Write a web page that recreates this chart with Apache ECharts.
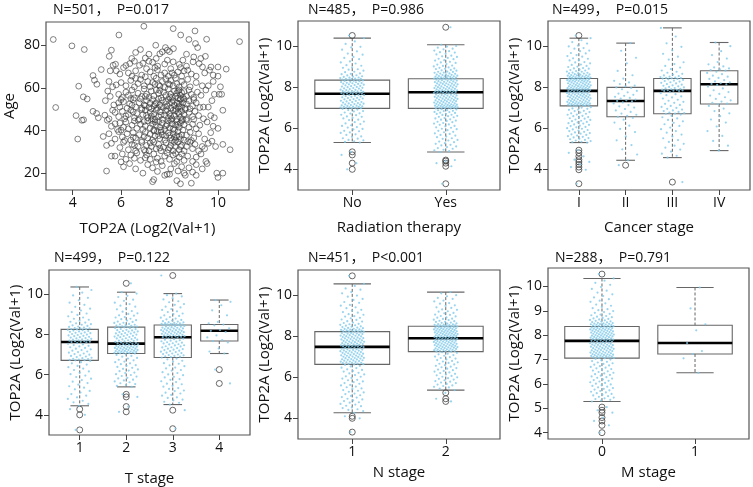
<!DOCTYPE html>
<html><head><meta charset="utf-8">
<script src="https://cdn.jsdelivr.net/npm/echarts@6/dist/echarts.min.js"></script>
<style>html,body{margin:0;padding:0;background:#fff}#c{width:753px;height:487px}</style>
</head><body><div id="c"></div>
<script>
// ---------------- DATA ----------------
// Panel 1: [TOP2A (Log2(Val+1)), Age]
const agePoints = [
[3.2,82.7],[6.94,88.9],[8.15,87.8],[9.05,86.7],[5.91,84.8],[8.46,84.8],[9.53,82.8],[8.8,82.7],[10.89,81.7],[9.07,80.8],[7.43,80],[3.97,79.7],
[4.48,78],[9.16,78.9],[7.83,78.9],[8.16,78.4],[7.91,77.7],[5.6,77.7],[7.7,76.9],[6.6,76.6],[7.15,75.8],[8.7,75.8],[9.48,74.8],[5.51,74.8],[8.0,77],[6.8,78],[7.6,76],
[7.45,73.8],[6.44,73.8],[9.29,73.8],[7.91,73],[7.15,72.5],[8.97,72.2],[9.22,71.4],[6.36,71.4],[5.67,70.6],[5.77,71.1],[6.76,70.6],[7.51,70.2],[8.15,72.2],[8.7,70.2],[9.71,69.8],[10.0,69.8],[6.55,72.5],[7.0,74],[8.4,71],[6.9,71.5],[7.3,72],[8.55,73],[6.2,70.5],[7.8,71.2],[9.0,74.5],
[10.34,68.8],[8.75,68.3],[9.36,69.8],[9.65,68.3],[5.18,68.6],[4.84,65.8],[5.8,68],[6.3,67],[6.6,68],[6.85,66],[7.05,69],[7.2,67.5],[7.35,65.5],[7.5,68.5],[7.65,66],[7.8,67],[7.95,65.5],[8.05,69],[8.2,66],[8.35,67.5],[8.5,65.5],[8.6,68],[8.9,66.5],[9.1,65.5],[9.8,66],[10.0,65.5],[6.1,69.5],[5.95,66.5],[7.4,69.5],[8.1,67],[8.45,69.5],[7.0,65.2],[6.45,65.5],[9.45,67],[5.55,68],
[4.25,60.8],[4.9,63.6],[5.0,61.7],[5.8,61.4],[5.5,63],[5.65,60.5],[6.0,62.5],[6.2,61],[6.4,63.5],[6.55,60.5],[6.7,62],[6.8,64],[6.95,61],[7.1,63],[7.2,60.5],[7.3,62.5],[7.45,64.5],[7.55,61.5],[7.7,63],[7.8,60.2],[7.85,64],[7.95,62],[8.05,63.5],[8.15,61],[8.25,64.5],[8.3,62],[8.4,60.5],[8.5,63],[8.6,61.5],[8.75,64],[8.85,60.5],[9.1,62.5],[9.35,61],[9.6,61],[9.8,63],[10.1,60.5],[7.6,60.8],[8.0,61.5],[7.4,61.7],[6.6,64.5],
[4.44,55.8],[4.6,54.8],[5.45,58.5],[5.55,56],[5.9,57],[6.05,55.5],[6.2,58],[6.3,56.5],[6.45,59],[6.55,55.3],[6.7,57.5],[6.85,56],[6.95,59.5],[7.05,57],[7.15,55.5],[7.25,58.5],[7.35,56.2],[7.45,59],[7.55,57.5],[7.65,55.3],[7.75,58],[7.85,56.5],[7.95,59.5],[8.05,57],[8.1,55.5],[8.2,58.5],[8.25,56],[8.3,57.5],[8.35,55.2],[8.4,59],[8.45,56.5],[8.5,57.8],[8.55,55.5],[8.6,58.3],[8.7,56],[8.8,59],[8.9,57],[9.0,55.5],[9.15,58],[9.3,56.5],[9.5,59],[9.85,57],[10.05,57],[10.15,57],[6.4,55],[7.0,56],[7.6,58.8],[8.0,55.8],[8.35,58.6],[8.45,54.8],
[5.35,54],[5.7,52],[5.95,51],[6.1,53.5],[6.25,50.5],[6.35,52.5],[6.5,54.5],[6.6,51],[6.75,53],[6.85,50.5],[6.95,52],[7.05,54],[7.15,50.8],[7.2,52.8],[7.3,54.5],[7.35,51.5],[7.45,53],[7.5,50.5],[7.6,52],[7.7,54.2],[7.75,50.8],[7.85,53.5],[7.9,51.5],[8.0,52.8],[8.05,50.5],[8.15,54],[8.2,51.8],[8.3,53],[8.35,50.8],[8.4,52.5],[8.45,54.5],[8.5,51],[8.55,53],[8.65,50.5],[8.7,52.5],[8.8,54],[8.95,51.5],[9.1,53],[9.25,50.8],[9.4,51],[9.6,51],[9.75,54],[10.2,49.5],[3.3,50.8],[6.0,54.5],[6.8,54.8],[7.25,50.2],[7.65,51.2],[8.1,53.2],[8.25,50.2],[8.6,54.7],[7.0,51.6],[6.45,51.8],[5.9,53],[7.55,54.8],[8.85,50.2],[9.0,54.5],[7.95,54.6],[8.4,51.5],[7.4,52.2],
[4.14,47],[4.84,49],[4.99,48],[5.06,46],[5.33,47.2],[5.5,45.5],[5.75,48.5],[5.9,46.5],[6.05,49],[6.15,45.5],[6.3,47.5],[6.4,49.5],[6.55,46],[6.65,48],[6.75,45.3],[6.9,47.5],[7.0,49.5],[7.1,46],[7.2,48.5],[7.3,45.5],[7.35,47.8],[7.45,49.5],[7.55,46.5],[7.6,48.8],[7.7,45.2],[7.8,47.2],[7.85,49.2],[7.95,46],[8.0,48],[8.1,45.5],[8.15,49.5],[8.2,47],[8.3,45.3],[8.35,48.5],[8.45,46.2],[8.5,49],[8.6,47.5],[8.7,45.5],[8.8,48.5],[8.95,46.5],[9.05,49],[9.2,47],[9.4,45.5],[9.7,47],[9.85,46],[6.2,46.8],[6.85,49.8],[7.25,46.8],[7.65,47.2],[8.05,46.8],[8.4,47.8],[8.55,45.2],[7.4,45.2],[6.5,48.8],[7.9,49.8],[8.25,49.2],[7.05,47.2],[5.65,49.5],[9.0,45.2],[8.65,49.8],
[4.38,44.8],[4.45,45],[5.43,44.8],[5.6,42],[5.85,40.5],[5.95,43.5],[6.1,41.5],[6.2,44],[6.3,40.8],[6.45,42.5],[6.55,44.5],[6.65,41],[6.8,43],[6.9,40.5],[7.0,42.2],[7.1,44.5],[7.2,41.2],[7.3,43],[7.35,40.3],[7.45,42.5],[7.55,44.2],[7.6,41.5],[7.7,43.5],[7.8,40.5],[7.85,42.2],[7.95,44.5],[8.0,41.2],[8.1,43.2],[8.15,40.8],[8.25,42.5],[8.3,44.2],[8.4,41.5],[8.45,43.5],[8.55,40.2],[8.6,42.8],[8.7,44.8],[8.8,41.5],[8.95,43],[9.1,40.8],[9.25,42.5],[9.55,44],[9.8,42],[10.0,41],[6.0,40.2],[6.7,44.8],[7.25,44.8],[7.65,40.2],[8.05,44.8],[8.35,42.8],[8.5,44.6],[7.9,42.8],[7.4,44],[6.95,44.2],[8.2,40.2],[5.75,43.2],
[4.21,36],[5.26,37.2],[5.5,38.5],[5.75,36],[5.9,39.5],[6.05,37],[6.25,38.5],[6.4,35.5],[6.5,39],[6.6,36.5],[6.75,38],[6.85,35.3],[7.0,39.2],[7.1,36.5],[7.2,38.3],[7.3,35.5],[7.4,37.5],[7.5,39.5],[7.6,36.2],[7.7,38],[7.8,35.5],[7.85,37.5],[7.95,39],[8.05,36.5],[8.15,38.5],[8.25,35.5],[8.3,37.5],[8.35,39.5],[8.45,36],[8.5,38],[8.6,35.5],[8.7,37.8],[8.85,39.2],[9.0,36.5],[9.2,38.5],[9.45,36],[9.7,39],[9.75,35],[10.2,33.5],[6.15,35.3],[6.95,37.2],[7.65,39.3],[8.1,35.3],[8.4,37.2],[7.35,39.8],[8.0,37.8],[7.55,37.6],[8.2,36.8],[6.5,36.8],[8.9,35.3],
[5.4,33],[5.6,34],[5.95,32],[6.1,34.5],[6.3,31],[6.45,33.5],[6.6,30.5],[6.7,32.5],[6.85,34.5],[6.95,31],[7.05,33],[7.15,30.5],[7.25,32.5],[7.35,34.5],[7.45,31.5],[7.55,33.5],[7.65,30.5],[7.75,32.2],[7.85,34.2],[7.95,31],[8.05,33],[8.15,30.5],[8.25,32.5],[8.35,34.5],[8.4,31],[8.5,33],[8.6,30.5],[8.7,32.5],[8.85,34.5],[8.95,31.5],[9.05,33.5],[9.2,30.5],[9.35,32.5],[9.6,34],[9.9,32.5],[10.5,31],[7.0,30.2],[7.6,31.8],[8.2,34.5],[8.45,32.5],[7.2,34.2],[6.55,33],[8.0,32],[8.75,34.8],[9.45,31.5],
[5.6,28],[5.75,28],[6.05,29],[6.2,26.5],[6.4,28.5],[6.55,27],[6.65,29.5],[6.8,26],[7.05,28.5],[7.2,26.5],[7.35,29],[7.5,27],[7.65,25.5],[7.8,28],[7.9,29.5],[8.0,26.5],[8.15,28.5],[8.3,25.5],[8.4,27.5],[8.5,29],[8.6,26],[8.75,28],[8.95,25.5],[9.1,27.5],[9.3,29],[9.5,25.5],[6.0,25.3],[7.45,25.2],[8.25,29.2],[7.0,27.2],
[5.4,21],[6.1,23],[6.35,24.5],[6.6,22],[6.9,20],[7.1,24],[7.3,22.5],[7.5,20.8],[7.7,23.5],[7.9,19.5],[8.05,22],[8.2,24.5],[8.35,21],[8.5,23],[8.6,20],[8.8,22.5],[8.95,20.5],[9.1,24],[9.35,22],[9.55,24.5],[9.95,20],[10.2,20],
[7.3,16],[7.8,19],[8.0,19.5],[8.3,16.5],[8.45,15],[8.9,15.3],[8.65,19],[9.1,19],[10.0,18],[7.35,17]
];

// Box statistics per group: [lower whisker, Q1, median, Q3, upper whisker]
const radiationCats = ['No', 'Yes'];
const radiationBox = [[5.30, 6.96, 7.67, 8.33, 10.37], [4.84, 6.96, 7.74, 8.40, 10.05]];
const radiationOut = [[10.5, 4.85, 4.7, 4.3, 4.0], [10.9, 4.45, 4.4, 4.3, 4.15, 3.3]];
const radiationNo = [10.5,10.37,10.21,10.09,9.95,9.92,9.81,9.73,9.62,9.57,9.46,9.41,9.35,9.24,9.19,9.14,9.06,9.03,8.95,8.93,8.86,8.84,8.79,8.74,8.72,8.66,8.64,8.62,8.57,8.56,8.52,8.5,8.49,8.46,8.45,8.43,8.41,8.4,8.39,8.38,8.36,8.35,8.34,
8.32,8.3,8.29,8.28,8.25,8.24,8.23,8.2,8.19,8.18,8.16,8.15,8.13,8.11,8.09,8.08,8.05,8.04,8.02,8.0,7.99,7.96,7.95,7.93,7.92,7.9,7.87,7.86,7.85,7.83,7.81,7.8,7.79,7.77,7.76,7.75,7.74,7.72,7.71,7.7,7.69,7.68,7.67,
7.66,7.64,7.62,7.61,7.6,7.57,7.56,7.53,7.52,7.5,7.47,7.46,7.44,7.41,7.4,7.38,7.36,7.33,7.32,7.3,7.27,7.26,7.24,7.22,7.2,7.19,7.17,7.15,7.14,7.12,7.11,7.09,7.08,7.06,7.05,7.04,7.03,7.01,7.0,6.99,6.98,6.97,6.96,
6.94,6.9,6.88,6.83,6.81,6.76,6.72,6.71,6.65,6.63,6.57,6.55,6.5,6.47,6.41,6.39,6.32,6.29,6.23,6.2,6.14,6.11,6.05,6.03,5.96,5.94,5.87,5.85,5.79,5.77,5.7,5.67,5.6,5.58,5.51,5.49,5.43,5.41,5.36,5.33,5.3,
4.85,4.7,4.3,4.0];
const radiationYes = [10.9,10.05,9.99,9.96,9.91,9.86,9.83,9.77,9.74,9.69,9.67,9.61,9.58,9.52,9.49,9.46,9.41,9.37,9.35,9.3,9.28,9.22,9.19,9.17,9.11,9.09,9.04,9.02,9.0,8.95,8.93,8.9,8.88,8.87,8.83,8.81,8.79,8.75,8.74,8.73,8.7,8.69,8.66,8.65,8.64,8.61,8.6,8.59,8.58,8.55,8.54,8.53,8.52,8.51,8.5,8.49,8.47,8.46,8.45,8.44,8.43,8.42,8.41,8.4,
8.39,8.38,8.37,8.36,8.34,8.33,8.31,8.3,8.28,8.27,8.25,8.24,8.23,8.21,8.2,8.18,8.17,8.16,8.15,8.13,8.12,8.1,8.09,8.08,8.06,8.05,8.03,8.02,8.01,7.99,7.98,7.96,7.95,7.94,7.93,7.91,7.9,7.88,7.87,7.85,7.84,7.83,7.82,7.81,7.8,7.79,7.78,7.77,7.76,7.75,7.74,
7.73,7.72,7.71,7.69,7.68,7.66,7.65,7.63,7.62,7.61,7.59,7.58,7.56,7.55,7.54,7.52,7.51,7.5,7.48,7.47,7.46,7.44,7.43,7.42,7.4,7.39,7.37,7.36,7.35,7.34,7.32,7.31,7.3,7.28,7.27,7.26,7.24,7.23,7.22,7.2,7.19,7.18,7.16,7.15,7.14,7.13,7.12,7.11,7.1,7.09,7.08,7.07,7.06,7.05,7.04,7.03,7.02,7.01,7.0,6.99,6.98,6.97,6.96,
6.95,6.92,6.91,6.88,6.87,6.84,6.83,6.79,6.78,6.75,6.74,6.7,6.69,6.65,6.64,6.6,6.58,6.55,6.53,6.49,6.47,6.43,6.41,6.37,6.35,6.31,6.29,6.25,6.22,6.18,6.16,6.11,6.09,6.04,6.02,5.97,5.95,5.9,5.87,5.82,5.8,5.75,5.72,5.67,5.64,5.59,5.56,5.51,5.48,5.43,5.4,5.35,5.32,5.27,5.24,5.19,5.16,5.11,5.08,5.03,5.0,4.95,4.92,4.88,4.84,
4.45,4.4,4.3,4.15,3.3];

const stageCats = ['I', 'II', 'III', 'IV'];
const stageBox = [[5.30, 7.08, 7.81, 8.41, 10.37], [4.44, 6.55, 7.32, 7.98, 10.13], [4.57, 6.70, 7.81, 8.41, 10.87], [4.91, 7.17, 8.13, 8.79, 10.16]];
const stageOut = [[10.5, 4.93, 4.8, 4.63, 4.47, 4.36, 4.24, 4.11, 3.98, 3.3], [4.2], [3.38], []];
const stageI = [10.5,10.37,10.27,10.18,10.11,10.01,9.97,9.89,9.86,9.77,9.74,9.65,9.63,9.55,9.5,9.47,9.39,9.37,9.3,9.29,9.21,9.19,9.15,9.09,9.07,9.02,8.99,8.97,8.92,8.9,8.89,8.84,8.82,8.8,8.77,8.75,8.74,8.7,8.69,8.67,8.66,8.65,8.62,8.61,8.6,8.58,8.57,8.56,8.55,8.53,8.52,8.51,8.5,8.49,8.48,8.47,8.46,8.45,8.44,8.43,8.42,8.41,
8.4,8.39,8.38,8.37,8.36,8.35,8.34,8.33,8.32,8.31,8.3,8.29,8.28,8.27,8.26,8.24,8.23,8.22,8.21,8.19,8.18,8.17,8.16,8.14,8.13,8.12,8.11,8.1,8.08,8.07,8.06,8.05,8.04,8.03,8.02,8.01,7.99,7.98,7.97,7.96,7.95,7.94,7.93,7.92,7.91,7.9,7.89,7.88,7.87,7.86,7.85,7.84,7.83,7.82,7.81,
7.8,7.79,7.77,7.76,7.75,7.74,7.72,7.71,7.7,7.69,7.67,7.66,7.65,7.64,7.63,7.61,7.6,7.59,7.57,7.56,7.55,7.54,7.52,7.51,7.5,7.49,7.48,7.46,7.45,7.44,7.42,7.41,7.4,7.38,7.37,7.36,7.34,7.33,7.32,7.3,7.29,7.28,7.27,7.26,7.24,7.23,7.22,7.21,7.2,7.19,7.18,7.17,7.16,7.15,7.14,7.13,7.12,7.11,7.1,7.09,7.08,
7.06,7.02,7.0,6.96,6.94,6.9,6.89,6.84,6.83,6.78,6.76,6.72,6.7,6.66,6.65,6.6,6.58,6.54,6.52,6.48,6.46,6.42,6.4,6.36,6.34,6.3,6.28,6.24,6.22,6.18,6.16,6.12,6.1,6.06,6.04,6.0,5.97,5.94,5.91,5.88,5.86,5.82,5.79,5.76,5.73,5.7,5.67,5.64,5.61,5.58,5.55,5.52,5.49,5.46,5.43,5.4,5.37,5.34,5.32,5.3,
4.93,4.8,4.63,4.47,4.36,4.24,4.11,3.98,3.3];
const stageII = [10.13,9.76,9.42,9.15,8.78,8.57,8.41,8.3,8.22,8.14,8.07,8.03,7.98,
7.95,7.89,7.81,7.74,7.68,7.62,7.57,7.52,7.47,7.43,7.39,7.35,7.32,
7.3,7.25,7.2,7.12,7.06,7.0,6.93,6.86,6.79,6.71,6.65,6.6,6.55,
6.5,6.41,6.27,6.12,5.96,5.81,5.6,5.41,5.18,4.97,4.72,4.44,4.2];
const stageIII = [10.87,10.45,10.12,9.95,9.78,9.61,9.47,9.33,9.2,9.11,9.02,8.94,8.87,8.8,8.74,8.69,8.64,8.6,8.56,8.53,8.5,8.48,8.46,8.44,8.43,8.42,8.41,
8.39,8.37,8.34,8.31,8.29,8.26,8.23,8.2,8.17,8.14,8.11,8.08,8.06,8.03,8.0,7.98,7.95,7.93,7.91,7.89,7.87,7.86,7.84,7.83,7.82,7.81,
7.8,7.75,7.7,7.65,7.6,7.54,7.49,7.44,7.38,7.33,7.28,7.23,7.18,7.13,7.08,7.03,6.98,6.94,6.9,6.86,6.83,6.79,6.76,6.73,6.71,6.7,
6.66,6.6,6.53,6.47,6.4,6.33,6.26,6.19,6.11,6.03,5.95,5.86,5.78,5.69,5.6,5.51,5.42,5.33,5.24,5.15,5.05,4.96,4.86,4.76,4.66,4.57,
3.38];
const stageIV = [10.16,9.98,9.74,9.55,9.38,9.21,9.1,9.0,8.95,8.9,8.85,8.82,8.79,
8.74,8.68,8.62,8.55,8.5,8.44,8.39,8.33,8.27,8.22,8.18,8.15,8.13,
8.1,8.02,7.93,7.84,7.75,7.66,7.58,7.5,7.42,7.35,7.29,7.23,7.19,7.17,
7.08,6.95,6.83,6.72,6.58,6.42,6.27,6.08,5.86,5.62,5.38,5.15,4.91];

const tCats = ['1', '2', '3', '4'];
const tBox = [[4.45, 6.71, 7.62, 8.25, 10.36], [5.39, 7.05, 7.54, 8.36, 10.10], [4.51, 6.85, 7.86, 8.47, 10.03], [7.05, 7.67, 8.18, 8.49, 9.71]];
const tOut = [[4.28, 4.0, 3.25], [10.54, 5.02, 4.89, 4.41, 4.15], [10.93, 4.23, 3.31], [6.25, 5.56]];
const tStage1 = [10.36,10.21,10.08,9.94,9.82,9.7,9.58,9.47,9.37,9.28,9.19,9.11,9.04,8.97,8.9,8.84,8.78,8.73,8.68,8.63,8.59,8.55,8.51,8.48,8.45,8.42,8.39,8.37,8.34,8.32,8.3,8.29,8.27,8.26,8.25,
8.23,8.21,8.19,8.17,8.15,8.13,8.1,8.08,8.06,8.04,8.02,7.99,7.97,7.95,7.93,7.91,7.88,7.86,7.84,7.82,7.8,7.78,7.76,7.74,7.72,7.7,7.69,7.67,7.66,7.64,7.63,7.62,
7.6,7.57,7.53,7.5,7.47,7.43,7.4,7.36,7.33,7.29,7.26,7.22,7.19,7.15,7.12,7.09,7.05,7.02,6.99,6.96,6.93,6.9,6.87,6.84,6.82,6.79,6.77,6.75,6.73,6.72,6.71,
6.68,6.62,6.56,6.5,6.43,6.37,6.3,6.23,6.16,6.09,6.02,5.95,5.88,5.8,5.73,5.65,5.58,5.5,5.42,5.35,5.27,5.19,5.11,5.03,4.95,4.87,4.79,4.7,4.62,4.54,4.45,
4.28,4.0,3.25];
const tStage2 = [10.54,10.1,10.03,9.92,9.86,9.73,9.67,9.58,9.51,9.43,9.38,9.29,9.25,9.16,9.13,9.05,9.02,8.95,8.93,8.86,8.84,8.78,8.76,8.71,8.69,8.64,8.62,8.58,8.57,8.52,8.5,8.48,8.46,8.44,8.43,8.4,8.39,8.38,8.37,8.36,
8.35,8.32,8.31,8.27,8.26,8.23,8.21,8.2,8.17,8.15,8.14,8.11,8.1,8.07,8.05,8.04,8.01,7.99,7.98,7.95,7.93,7.92,7.89,7.87,7.86,7.83,7.81,7.8,7.77,7.75,7.74,7.71,7.69,7.68,7.65,7.63,7.62,7.6,7.58,7.56,7.55,
7.53,7.52,7.5,7.49,7.47,7.46,7.45,7.43,7.42,7.41,7.39,7.38,7.37,7.36,7.34,7.33,7.32,7.31,7.29,7.28,7.27,7.25,7.24,7.23,7.22,7.2,7.19,7.18,7.17,7.15,7.14,7.13,7.12,7.11,7.1,7.09,7.08,7.07,7.06,7.05,
7.02,6.98,6.93,6.89,6.83,6.8,6.74,6.71,6.65,6.62,6.56,6.52,6.47,6.44,6.38,6.34,6.29,6.26,6.2,6.17,6.1,6.08,6.02,5.98,5.93,5.9,5.84,5.81,5.75,5.71,5.66,5.62,5.57,5.53,5.48,5.44,5.39,
5.02,4.89,4.41,4.15];
const tStage3 = [10.93,10.03,9.95,9.89,9.8,9.74,9.65,9.6,9.51,9.47,9.38,9.34,9.26,9.22,9.15,9.11,9.04,9.01,8.95,8.92,8.86,8.83,8.79,8.75,8.72,8.69,8.66,8.64,8.61,8.6,8.57,8.56,8.55,8.53,8.52,8.51,8.5,8.49,8.48,8.47,
8.46,8.44,8.42,8.41,8.39,8.38,8.36,8.34,8.33,8.31,8.3,8.29,8.27,8.25,8.24,8.22,8.21,8.2,8.18,8.16,8.15,8.13,8.12,8.11,8.09,8.07,8.06,8.04,8.03,8.02,8.0,7.98,7.97,7.95,7.94,7.93,7.91,7.9,7.89,7.88,7.87,7.86,
7.84,7.81,7.79,7.76,7.74,7.71,7.69,7.66,7.64,7.61,7.59,7.56,7.55,7.51,7.5,7.46,7.45,7.41,7.4,7.36,7.35,7.32,7.29,7.27,7.24,7.22,7.19,7.17,7.14,7.12,7.09,7.07,7.05,7.02,7.0,6.97,6.96,6.93,6.91,6.89,6.87,6.85,
6.8,6.76,6.69,6.65,6.57,6.54,6.46,6.42,6.35,6.31,6.23,6.2,6.12,6.08,6.01,5.97,5.89,5.86,5.78,5.74,5.67,5.63,5.55,5.52,5.44,5.4,5.33,5.29,5.21,5.18,5.1,5.06,4.99,4.95,4.87,4.84,4.76,4.72,4.65,4.6,4.51,
4.23,3.31];
const tStage4 = [9.71,9.62,9.45,9.2,8.95,8.62,8.55,8.49,8.45,8.3,8.22,8.18,8.12,7.95,7.85,7.72,7.67,7.6,7.3,7.15,7.05,6.25,5.56];

const nCats = ['1', '2'];
const nBox = [[4.27, 6.62, 7.47, 8.21, 10.53], [5.37, 7.24, 7.89, 8.47, 10.13]];
const nOut = [[10.92, 4.1, 4.0, 3.33], [5.24, 4.95, 4.82]];
const nStage1 = [10.92,10.53,10.43,10.31,10.25,10.13,10.07,9.96,9.91,9.8,9.75,9.65,9.61,9.51,9.47,9.39,9.35,9.27,9.23,9.16,9.13,9.06,9.03,8.96,8.94,8.88,8.86,8.8,8.78,8.72,8.7,8.65,8.63,8.59,8.57,8.54,8.52,8.5,8.47,8.45,8.43,8.41,8.39,8.38,8.35,8.34,8.32,8.31,8.3,8.28,8.27,8.26,8.25,8.24,8.23,8.22,8.21,
8.2,8.18,8.17,8.15,8.14,8.12,8.11,8.09,8.08,8.06,8.05,8.04,8.02,8.01,7.99,7.98,7.96,7.95,7.93,7.92,7.9,7.89,7.88,7.86,7.85,7.83,7.82,7.8,7.79,7.77,7.76,7.75,7.73,7.72,7.7,7.69,7.68,7.66,7.65,7.63,7.62,7.61,7.59,7.58,7.57,7.55,7.54,7.53,7.52,7.51,7.5,7.49,7.48,7.47,
7.46,7.44,7.42,7.41,7.4,7.38,7.36,7.35,7.34,7.32,7.3,7.29,7.28,7.26,7.24,7.23,7.22,7.2,7.18,7.17,7.16,7.14,7.12,7.11,7.1,7.08,7.06,7.05,7.04,7.02,7.0,6.99,6.98,6.96,6.94,6.93,6.92,6.9,6.88,6.87,6.86,6.84,6.82,6.81,6.8,6.78,6.76,6.75,6.74,6.72,6.7,6.69,6.68,6.66,6.64,6.63,6.62,
6.6,6.55,6.52,6.46,6.44,6.38,6.35,6.3,6.27,6.21,6.18,6.13,6.1,6.04,6.02,5.96,5.93,5.87,5.85,5.79,5.76,5.71,5.68,5.62,5.6,5.54,5.51,5.45,5.43,5.37,5.34,5.29,5.26,5.2,5.18,5.12,5.09,5.03,5.01,4.95,4.92,4.87,4.84,4.78,4.76,4.7,4.67,4.61,4.59,4.53,4.5,4.44,4.41,4.35,4.27,
4.1,4.0,3.33];
const nStage2 = [10.13,10.07,9.98,9.93,9.85,9.8,9.72,9.68,9.6,9.57,9.49,9.46,9.39,9.36,9.29,9.27,9.2,9.18,9.12,9.1,9.04,9.02,8.97,8.95,8.9,8.89,8.84,8.83,8.79,8.77,8.74,8.72,8.69,8.68,8.65,8.64,8.61,8.6,8.58,8.57,8.55,8.54,8.53,8.52,8.51,8.5,8.49,8.48,8.47,
8.46,8.45,8.44,8.43,8.42,8.41,8.39,8.38,8.37,8.36,8.35,8.34,8.33,8.32,8.31,8.3,8.28,8.27,8.26,8.25,8.24,8.23,8.22,8.21,8.2,8.19,8.17,8.16,8.15,8.14,8.13,8.12,8.11,8.1,8.09,8.08,8.06,8.05,8.04,8.03,8.02,8.01,8.0,7.99,7.98,7.97,7.96,7.95,7.94,7.93,7.92,7.91,7.9,7.89,
7.88,7.87,7.86,7.85,7.83,7.82,7.81,7.8,7.79,7.77,7.76,7.75,7.74,7.73,7.71,7.7,7.69,7.68,7.67,7.65,7.64,7.63,7.62,7.61,7.59,7.58,7.57,7.56,7.55,7.53,7.52,7.51,7.5,7.49,7.47,7.46,7.45,7.44,7.43,7.41,7.4,7.39,7.38,7.37,7.35,7.34,7.33,7.32,7.31,7.29,7.28,7.27,7.26,7.25,7.24,
7.21,7.18,7.14,7.11,7.07,7.04,7.0,6.97,6.93,6.9,6.86,6.83,6.79,6.76,6.72,6.69,6.65,6.62,6.58,6.55,6.51,6.48,6.44,6.41,6.37,6.34,6.3,6.27,6.23,6.2,6.16,6.13,6.09,6.06,6.02,5.99,5.95,5.92,5.88,5.85,5.81,5.78,5.74,5.71,5.67,5.64,5.6,5.57,5.53,5.5,5.44,5.37,
5.24,4.95,4.82];

const mCats = ['0', '1'];
const mBox = [[5.28, 7.06, 7.77, 8.36, 10.33], [6.46, 7.23, 7.68, 8.41, 9.96]];
const mOut = [[10.51, 5.05, 4.92, 4.82, 4.62, 4.48, 4.3, 4.0], []];
const mStage0 = [10.51,10.33,10.24,10.15,10.07,9.98,9.9,9.83,9.75,9.68,9.61,9.55,9.48,9.42,9.37,9.31,9.26,9.21,9.16,9.11,9.07,9.03,8.99,8.95,8.92,8.88,8.85,8.82,8.79,8.76,8.74,8.71,8.69,8.67,8.65,8.63,8.61,8.59,8.57,8.56,8.54,8.53,8.51,8.5,8.49,8.48,8.47,8.46,8.45,8.44,8.43,8.42,8.41,8.4,8.39,8.38,8.37,8.36,
8.35,8.34,8.33,8.32,8.31,8.3,8.29,8.28,8.27,8.26,8.25,8.24,8.23,8.22,8.21,8.2,8.19,8.18,8.17,8.16,8.15,8.14,8.13,8.12,8.11,8.1,8.09,8.08,8.07,8.06,8.05,8.04,8.03,8.02,8.01,8.0,7.99,7.98,7.97,7.96,7.95,7.94,7.93,7.92,7.91,7.9,7.89,7.88,7.87,7.86,7.85,7.84,7.83,7.82,7.81,7.8,7.79,7.78,7.77,
7.76,7.75,7.74,7.72,7.71,7.7,7.69,7.68,7.67,7.66,7.65,7.64,7.62,7.61,7.6,7.59,7.58,7.57,7.55,7.54,7.53,7.52,7.51,7.5,7.48,7.47,7.46,7.45,7.44,7.43,7.41,7.4,7.39,7.38,7.37,7.36,7.35,7.33,7.32,7.31,7.3,7.29,7.28,7.27,7.26,7.24,7.23,7.22,7.21,7.2,7.19,7.18,7.17,7.16,7.15,7.14,7.13,7.12,7.11,7.1,7.09,7.08,7.07,7.06,
7.03,7.0,6.97,6.94,6.91,6.88,6.85,6.82,6.79,6.76,6.73,6.7,6.67,6.64,6.61,6.58,6.55,6.52,6.49,6.46,6.43,6.4,6.37,6.34,6.31,6.28,6.25,6.22,6.19,6.16,6.13,6.1,6.07,6.04,6.01,5.98,5.95,5.92,5.89,5.86,5.83,5.8,5.77,5.74,5.71,5.68,5.65,5.62,5.59,5.56,5.53,5.5,5.47,5.44,5.41,5.38,5.35,5.32,5.28,
5.05,4.92,4.82,4.62,4.48,4.3,4.0];
const mStage1 = [9.96, 9.1, 8.45, 8.2, 7.68, 7.35, 7.23, 7.05, 6.46];

const panelTitles = ['N=501，  P=0.017', 'N=485，  P=0.986', 'N=499，  P=0.015', 'N=499，  P=0.122', 'N=451，  P<0.001', 'N=288，  P=0.791'];
const xNames = ['TOP2A (Log2(Val+1)', 'Radiation therapy', 'Cancer stage', 'T stage', 'N stage', 'M stage'];
const yNames = ['Age', 'TOP2A (Log2(Val+1)', 'TOP2A (Log2(Val+1)', 'TOP2A (Log2(Val+1)', 'TOP2A (Log2(Val+1)', 'TOP2A (Log2(Val+1)'];
const scatterXTicks = [4, 6, 8, 10];
const scatterYTicks = [20, 40, 60, 80];
const exprTicks = [4, 6, 8, 10];
const mExprTicks = [4, 5, 6, 7, 8, 9, 10];

// ---------------- LAYOUT / STYLE ----------------
const FONT = '"Open Sans","Noto Sans CJK SC",sans-serif';
const TXT = '#111';
const layouts = [
  {l: 46, t: 22, w: 203, h: 168, titleX: 53, titleY: 3, xGap: 31, yGap: 29},
  {l: 298, t: 21, w: 202, h: 169, titleX: 308, titleY: 3, xGap: 30, yGap: 16},
  {l: 548, t: 21, w: 202, h: 169, titleX: 552, titleY: 3, xGap: 30, yGap: 16},
  {l: 49, t: 270, w: 201, h: 169, titleX: 54, titleY: 251, xGap: 36, yGap: 18},
  {l: 298, t: 270, w: 202, h: 169, titleX: 308, titleY: 251, xGap: 26, yGap: 17},
  {l: 548, t: 268, w: 201, h: 171, titleX: 555, titleY: 251, xGap: 26, yGap: 16}
];

const boxPanels = [
  {cats: radiationCats, box: radiationBox, out: radiationOut, dots: [radiationNo, radiationYes], yMin: 2.996, yMax: 11.204, ticks: exprTicks},
  {cats: stageCats, box: stageBox, out: stageOut, dots: [stageI, stageII, stageIII, stageIV], yMin: 2.996, yMax: 11.204, ticks: exprTicks},
  {cats: tCats, box: tBox, out: tOut, dots: [tStage1, tStage2, tStage3, tStage4], yMin: 2.996, yMax: 11.204, ticks: exprTicks},
  {cats: nCats, box: nBox, out: nOut, dots: [nStage1, nStage2], yMin: 2.996, yMax: 11.204, ticks: exprTicks},
  {cats: mCats, box: mBox, out: mOut, dots: [mStage0, mStage1], yMin: 3.74, yMax: 10.76, ticks: mExprTicks}
];

// horizontal jitter of the strip points (display spread only)
function jitterOffset(i, amp) {
  const f = (i * 0.6180339887 + 0.37) % 1;
  return amp * (2 * f - 1);
}

const grid = [], xAxis = [], yAxis = [], series = [], title = [];

function axisCommon(idx) {
  return {
    gridIndex: idx, type: 'value',
    axisLine: {show: false}, splitLine: {show: false},
    nameLocation: 'middle',
    nameTextStyle: {fontSize: 15, color: TXT, fontFamily: FONT}
  };
}

layouts.forEach((L, i) => {
  grid.push({left: L.l, top: L.t, width: L.w, height: L.h, show: true, borderColor: '#555', borderWidth: 1.2, backgroundColor: 'transparent'});
  title.push({text: panelTitles[i], left: L.titleX, top: L.titleY, padding: 0,
    textStyle: {fontSize: 14, fontWeight: 'normal', color: TXT, fontFamily: FONT}});
});

// Panel 1 scatter
xAxis.push(Object.assign(axisCommon(0), {
  min: 2.9, max: 11.28, name: xNames[0], nameGap: layouts[0].xGap,
  axisTick: {show: true, length: 5, customValues: scatterXTicks, lineStyle: {color: '#444'}},
  axisLabel: {customValues: scatterXTicks, margin: 6, fontSize: 14, color: TXT, fontFamily: FONT}
}));
yAxis.push(Object.assign(axisCommon(0), {
  min: 12.1, max: 90.9, name: yNames[0], nameGap: layouts[0].yGap,
  axisTick: {show: true, length: 5, customValues: scatterYTicks, lineStyle: {color: '#444'}},
  axisLabel: {customValues: scatterYTicks, margin: 6, fontSize: 14, color: TXT, fontFamily: FONT}
}));
series.push({
  type: 'scatter', xAxisIndex: 0, yAxisIndex: 0, data: agePoints, silent: true,
  symbol: 'circle', symbolSize: 5.8,
  itemStyle: {color: 'rgba(0,0,0,0)', borderColor: '#3a3a3a', borderWidth: 0.8}
});

function renderBox(params, api) {
  const c = api.value(0);
  const lo = api.value(1), q1 = api.value(2), md = api.value(3), q3 = api.value(4), hi = api.value(5);
  const bw = 0.4, cw = 0.2;
  const tl = api.coord([c - bw, q3]), br = api.coord([c + bw, q1]);
  const m1 = api.coord([c - bw, md]), m2 = api.coord([c + bw, md]);
  const pHi = api.coord([c, hi]), pQ3 = api.coord([c, q3]), pQ1 = api.coord([c, q1]), pLo = api.coord([c, lo]);
  const hL = api.coord([c - cw, hi]), hR = api.coord([c + cw, hi]);
  const lL = api.coord([c - cw, lo]), lR = api.coord([c + cw, lo]);
  const dash = {stroke: '#666', lineWidth: 1, lineDash: [3, 2]};
  const solid = {stroke: '#666', lineWidth: 1.1};
  return {
    type: 'group',
    children: [
      {type: 'line', shape: {x1: pHi[0], y1: pHi[1], x2: pQ3[0], y2: pQ3[1]}, style: dash},
      {type: 'line', shape: {x1: pQ1[0], y1: pQ1[1], x2: pLo[0], y2: pLo[1]}, style: dash},
      {type: 'line', shape: {x1: hL[0], y1: hL[1], x2: hR[0], y2: hR[1]}, style: solid},
      {type: 'line', shape: {x1: lL[0], y1: lL[1], x2: lR[0], y2: lR[1]}, style: solid},
      {type: 'rect', shape: {x: tl[0], y: tl[1], width: br[0] - tl[0], height: br[1] - tl[1]}, style: {fill: 'none', stroke: '#666', lineWidth: 1.1}},
      {type: 'line', shape: {x1: m1[0], y1: m1[1], x2: m2[0], y2: m2[1]}, style: {stroke: '#000', lineWidth: 2.6}}
    ]
  };
}

boxPanels.forEach((P, k) => {
  const idx = k + 1;
  const L = layouts[idx];
  const n = P.cats.length;
  const xMin = 0.5 - 0.04 * n, xMax = n + 0.5 + 0.04 * n;
  const pxPerUnit = L.w / (xMax - xMin);
  const amp = 12 / pxPerUnit;
  const catTicks = P.cats.map((_, j) => j + 1);
  xAxis.push(Object.assign(axisCommon(idx), {
    min: xMin, max: xMax, name: xNames[idx], nameGap: L.xGap,
    axisTick: {show: true, length: 5, customValues: catTicks, lineStyle: {color: '#444'}},
    axisLabel: {customValues: catTicks, margin: 6, fontSize: 14, color: TXT, fontFamily: FONT,
      formatter: v => P.cats[Math.round(v) - 1]}
  }));
  yAxis.push(Object.assign(axisCommon(idx), {
    min: P.yMin, max: P.yMax, name: yNames[idx], nameGap: L.yGap,
    axisTick: {show: true, length: 5, customValues: P.ticks, lineStyle: {color: '#444'}},
    axisLabel: {customValues: P.ticks, margin: 6, fontSize: 14, color: TXT, fontFamily: FONT}
  }));
  series.push({
    type: 'custom', xAxisIndex: idx, yAxisIndex: idx, silent: true, z: 2,
    data: P.box.map((s, j) => [j + 1].concat(s)),
    encode: {x: 0, y: [1, 2, 3, 4, 5]},
    renderItem: renderBox
  });
  const outData = [];
  P.out.forEach((arr, j) => arr.forEach(v => outData.push([j + 1, v])));
  series.push({
    type: 'scatter', xAxisIndex: idx, yAxisIndex: idx, silent: true, z: 3,
    data: outData, symbol: 'circle', symbolSize: 6,
    itemStyle: {color: 'rgba(0,0,0,0)', borderColor: '#444', borderWidth: 1}
  });
  const dotData = [];
  P.dots.forEach((arr, j) => arr.forEach((v, i) => dotData.push([j + 1 + jitterOffset(i + j * 7, amp), v])));
  series.push({
    type: 'scatter', xAxisIndex: idx, yAxisIndex: idx, silent: true, z: 4,
    data: dotData, symbol: 'circle', symbolSize: 2.2,
    itemStyle: {color: '#7fc9ea'}
  });
});

const chart = echarts.init(document.getElementById('c'), null, {renderer: 'canvas', width: 753, height: 487});
chart.setOption({animation: false, backgroundColor: '#fff', title, grid, xAxis, yAxis, series});
</script>
</body></html>
